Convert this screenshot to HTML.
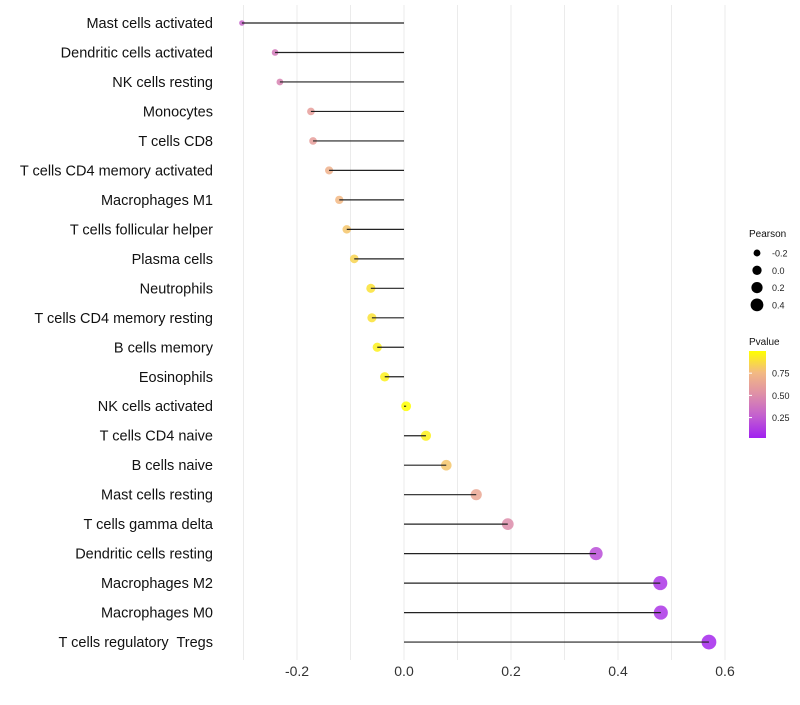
<!DOCTYPE html>
<html><head><meta charset="utf-8"><style>
body{margin:0;background:#fff;font-family:"Liberation Sans",Arial,sans-serif}
text{white-space:pre}
</style></head><body>
<svg id="chart" width="800" height="700" xmlns="http://www.w3.org/2000/svg">
<defs><linearGradient id="pg" x1="0" y1="1" x2="0" y2="0">
<stop offset="0" stop-color="#a020f0"/><stop offset="0.25" stop-color="#c35fd0"/><stop offset="0.5" stop-color="#de8fa8"/><stop offset="0.75" stop-color="#f3b983"/><stop offset="1" stop-color="#ffff00"/>
</linearGradient></defs>
<g id="grid"></g><g id="dots"></g><g id="marks"></g><g id="labels"></g><g id="legend"></g>
</svg>
<script>
const categories=["Mast cells activated","Dendritic cells activated","NK cells resting","Monocytes","T cells CD8","T cells CD4 memory activated","Macrophages M1","T cells follicular helper","Plasma cells","Neutrophils","T cells CD4 memory resting","B cells memory","Eosinophils","NK cells activated","T cells CD4 naive","B cells naive","Mast cells resting","T cells gamma delta","Dendritic cells resting","Macrophages M2","Macrophages M0","T cells regulatory  Tregs"];
const pearson=[-0.303,-0.241,-0.232,-0.174,-0.170,-0.140,-0.121,-0.107,-0.093,-0.062,-0.060,-0.050,-0.036,0.004,0.041,0.079,0.135,0.194,0.359,0.479,0.480,0.570];
const pvalue=[0.3,0.4,0.45,0.6,0.6,0.7,0.75,0.8,0.85,0.9,0.9,0.95,0.95,1.0,0.95,0.8,0.65,0.5,0.2,0.1,0.1,0.05];
const xTicks=[-0.2,0.0,0.2,0.4,0.6];
const xTickLabels=["-0.2","0.0","0.2","0.4","0.6"];
const sizeLegend=[-0.2,0.0,0.2,0.4];
const sizeLegendLabels=["-0.2","0.0","0.2","0.4"];
const pLegend=[0.75,0.50,0.25];
const pLegendLabels=["0.75","0.50","0.25"];

const NS="http://www.w3.org/2000/svg";
const X=v=>404+v*535;
const Y=i=>23+i*29.48;
const R=v=>Math.sqrt(Math.max(2.25,11+54*(v+0.24)));
const stops=[[0,[160,32,240]],[0.25,[195,95,208]],[0.5,[222,143,168]],[0.75,[243,185,131]],[1,[255,255,0]]];
function pcol(p){const t=Math.max(0,Math.min(1,(p-0.02)/0.98));for(let k=1;k<stops.length;k++){if(t<=stops[k][0]){const a=stops[k-1],b=stops[k],f=(t-a[0])/(b[0]-a[0]);return "rgb("+a[1].map((c,j)=>Math.round(c+(b[1][j]-c)*f)).join(",")+")";}}return "rgb(255,255,0)";}
function mk(tag,attrs,parent,text){const e=document.createElementNS(NS,tag);for(const k in attrs)e.setAttribute(k,attrs[k]);if(text!==undefined)e.textContent=text;parent.appendChild(e);return e;}
const grid=document.getElementById('grid'),dots=document.getElementById('dots'),marks=document.getElementById('marks'),labels=document.getElementById('labels'),legend=document.getElementById('legend');
for(let v=-0.3;v<=0.61;v+=0.1){const g=mk('line',{x1:X(v),x2:X(v),y1:5,y2:660,stroke:'#ebebeb','stroke-width':1},grid);

}
xTicks.forEach((v,i)=>{const t=mk('text',{x:X(v),y:676,'text-anchor':'middle','font-size':14,fill:'#333'},labels,xTickLabels[i]);

});
categories.forEach((c,i)=>{
const t=mk('text',{x:213,y:Y(i)+5,'text-anchor':'end','font-size':14.5,fill:'#111'},labels,c);


const d=mk('circle',{cx:X(pearson[i]),cy:Y(i),r:R(pearson[i]),fill:pcol(pvalue[i]),'fill-opacity':0.85},dots);


const l=mk('line',{x1:X(0),x2:X(pearson[i]),y1:Y(i),y2:Y(i),stroke:'#222','stroke-width':1.2},marks);


});
const lt=mk('text',{x:749,y:237,'font-size':10,fill:'#111'},legend,'Pearson');


sizeLegend.forEach((v,i)=>{const y=253+i*17.3;
const c=mk('circle',{cx:757,cy:y,r:R(v)*0.95,fill:'#000'},legend);


const t=mk('text',{x:772,y:y+3.5,'font-size':9,fill:'#222'},legend,sizeLegendLabels[i]);

});
const pt=mk('text',{x:749,y:345,'font-size':10,fill:'#111'},legend,'Pvalue');


const bar=mk('rect',{x:749,y:351,width:17,height:87,fill:'url(#pg)'},legend);


const PY=p=>438-(p-0.02)/0.98*87;
pLegend.forEach((p,i)=>{const y=PY(p);
const tk=mk('line',{x1:749,x2:752,y1:y,y2:y,stroke:'#fff','stroke-width':1},legend);


const t=mk('text',{x:772,y:y+3.5,'font-size':9,fill:'#222'},legend,pLegendLabels[i]);

});
</script>
</body></html>
